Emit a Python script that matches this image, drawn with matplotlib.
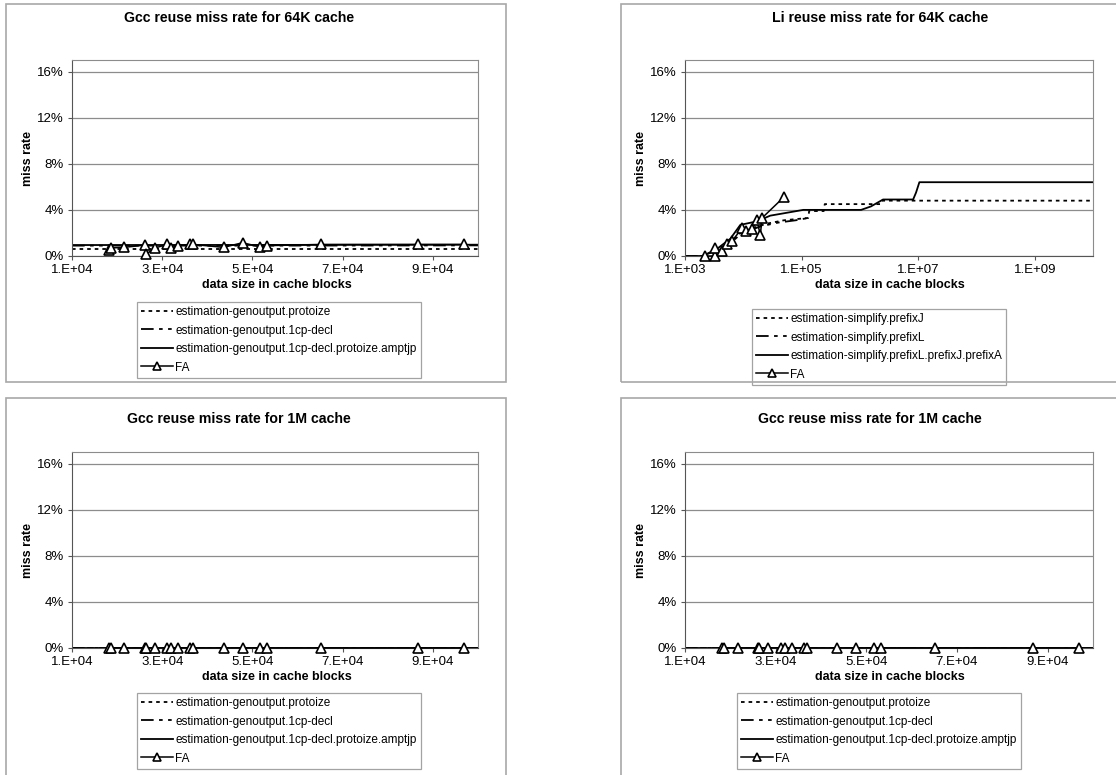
import matplotlib
matplotlib.use("Agg")
import matplotlib.pyplot as plt
from matplotlib.patches import Rectangle
from matplotlib.ticker import FuncFormatter, FixedLocator, NullLocator

plt.rcParams['font.family'] = ['Liberation Sans', 'DejaVu Sans']

W, H = 1116, 775

# ---- data (miss rate in %) ----
gcc_fa_x = [1.82e4, 1.87e4, 2.16e4, 2.62e4, 2.64e4, 2.84e4, 3.11e4, 3.2e4, 3.36e4,
            3.62e4, 3.69e4, 4.36e4, 4.78e4, 5.16e4, 5.33e4, 6.51e4, 8.67e4, 9.69e4]
gcc64_fa_y = [0.52, 0.70, 0.75, 0.95, 0.15, 0.70, 1.00, 0.70, 0.90,
              1.00, 1.00, 0.75, 1.15, 0.80, 0.90, 1.00, 1.00, 1.00]
gcc64_est_x = [1.0e4, 5.0e4, 1.0e5]
gcc64_protoize = [0.65, 0.65, 0.65]
gcc64_decl = [0.90, 0.90, 0.92]
gcc64_amptjp = [0.95, 0.96, 0.98]

gcc1m_fa_y = [0.0] * len(gcc_fa_x)
gcc1m_est_x = [1.0e4, 1.0e5]
gcc1m_protoize = [0.0, 0.0]
gcc1m_decl = [0.0, 0.0]
gcc1m_amptjp = [0.0, 0.0]

li_fa_x = [2.2e3, 3.3e3, 3.3e3, 4.3e3, 5.2e3, 6.4e3, 9.5e3, 1.13e4, 1.41e4,
           1.72e4, 1.96e4, 2.1e4, 4.95e4]
li_fa_y = [0.0, 0.0, 0.67, 0.43, 1.0, 1.3, 2.4, 2.2, 2.3, 3.1, 1.8, 3.3, 5.1]

li_j_x = [1e3, 2.0e3, 3.5e3, 6e3, 9e3, 1.4e4, 2.5e4, 5e4, 1.3e5, 1.35e5, 2.4e5, 2.5e5,
          2.3e6, 2.4e6, 1e10]
li_j_y = [0.0, 0.0, 0.5, 1.2, 2.0, 2.4, 2.8, 3.1, 3.3, 3.9, 3.9, 4.5, 4.5, 4.8, 4.8]

li_l_x = [1e3, 2.0e3, 3.5e3, 6e3, 9e3, 1.4e4, 2.1e4, 4e4, 8e4, 1.3e5]
li_l_y = [0.0, 0.0, 0.4, 1.1, 1.9, 2.3, 2.6, 2.9, 3.1, 3.3]

li_a_x = [1e3, 2.0e3, 3.5e3, 6e3, 8.9e3, 1.7e4, 2.9e4, 4.9e4, 1.07e5, 1.05e6,
          1.55e6, 2.5e6, 8.2e6, 9.2e6, 1.05e7, 1e10]
li_a_y = [0.0, 0.0, 0.6, 1.5, 2.7, 3.0, 3.5, 3.7, 4.0, 4.0,
          4.3, 4.9, 4.9, 5.5, 6.4, 6.4]

gcc_labels = ["estimation-genoutput.protoize", "estimation-genoutput.1cp-decl",
              "estimation-genoutput.1cp-decl.protoize.amptjp", "FA"]
li_labels = ["estimation-simplify.prefixJ", "estimation-simplify.prefixL",
             "estimation-simplify.prefixL.prefixJ.prefixA", "FA"]

y_ticks = [0, 4, 8, 12, 16]
gcc_x_ticks = [1e4, 3e4, 5e4, 7e4, 9e4]
li_x_ticks = [1e3, 1e5, 1e7, 1e9]

DOT = (0, (2, 2.2))
DASHDOT = (0, (7, 3, 2, 3, 2, 3))


def px_rect(x0, y0, x1, y1):
    return [x0 / W, 1 - y1 / H, (x1 - x0) / W, (y1 - y0) / H]


def sci_fmt(v, pos=None):
    s = "%.0E" % v
    mant, exp = s.split("E")
    return "%s.E%s%s" % (mant, exp[0], exp[1:].zfill(2))


fig = plt.figure(figsize=(W / 100, H / 100), dpi=100)

# panel frames
for (x0, y0) in [(6, 4), (621, 4), (6, 398), (621, 398)]:
    fig.patches.append(Rectangle((x0 / W, 1 - (y0 + 378) / H), 500 / W, 378 / H,
                                 transform=fig.transFigure, fill=False,
                                 edgecolor="#a8a8a8", linewidth=1.2))


def panel(rect, title, title_xy, xlabel_xy, ylabel_xy, legend_xy,
          series, labels, fa_x, fa_y, log=False):
    ax = fig.add_axes(px_rect(*rect))
    styles = [DOT, DASHDOT, "-"]
    for (sx, sy), ls, lab in zip(series, styles, labels[:3]):
        ax.plot(sx, [v / 100 for v in sy], color="black", linestyle=ls,
                linewidth=1.3, label=lab)
    ax.plot(fa_x, [v / 100 for v in fa_y], color="black", linewidth=1.1,
            marker="^", markersize=7.5, markerfacecolor="white",
            markeredgecolor="black", markeredgewidth=1.2, label=labels[3],
            clip_on=False, zorder=3)
    ax.set_ylim(0, 0.17)
    ax.yaxis.set_major_locator(FixedLocator([t / 100 for t in y_ticks]))
    ax.yaxis.set_major_formatter(FuncFormatter(lambda v, p: "%d%%" % round(v * 100)))
    if log:
        ax.set_xscale("log")
        ax.set_xlim(1e3, 1e10)
        ax.xaxis.set_major_locator(FixedLocator(li_x_ticks))
        ax.xaxis.set_minor_locator(NullLocator())
    else:
        ax.set_xlim(1e4, 1e5)
        ax.xaxis.set_major_locator(FixedLocator(gcc_x_ticks))
    ax.xaxis.set_major_formatter(FuncFormatter(sci_fmt))
    ax.grid(axis="y", color="#8c8c8c", linewidth=0.9)
    ax.set_axisbelow(True)
    for side in ["top", "right"]:
        ax.spines[side].set_color("#8c8c8c")
    for side in ["left", "bottom"]:
        ax.spines[side].set_color("#555555")
    ax.tick_params(labelsize=9.5, length=3, width=0.8, color="#555555", pad=3)
    fig.text(title_xy[0] / W, 1 - title_xy[1] / H, title, ha="center", va="center",
             fontsize=10.2, fontweight="bold")
    fig.text(xlabel_xy[0] / W, 1 - xlabel_xy[1] / H, "data size in cache blocks",
             ha="center", va="center", fontsize=9, fontweight="bold")
    fig.text(ylabel_xy[0] / W, 1 - ylabel_xy[1] / H, "miss rate", ha="center",
             va="center", rotation=90, fontsize=9, fontweight="bold")
    leg = ax.legend(loc="upper left", bbox_to_anchor=(legend_xy[0] / W, 1 - legend_xy[1] / H),
                    bbox_transform=fig.transFigure, borderaxespad=0, fontsize=8.5,
                    frameon=True, fancybox=False, handlelength=2.7, handletextpad=0.2,
                    labelspacing=0.55, borderpad=0.35, markerscale=0.75)
    leg.get_frame().set_edgecolor("#8c8c8c")
    leg.get_frame().set_linewidth(0.9)
    return ax


panel((72, 60, 478, 256), "Gcc reuse miss rate for 64K cache", (239, 18), (277, 285), (28, 158),
      (137, 302),
      [(gcc64_est_x, gcc64_protoize), (gcc64_est_x, gcc64_decl), (gcc64_est_x, gcc64_amptjp)],
      gcc_labels, gcc_fa_x, gcc64_fa_y)

panel((685, 60, 1093, 256), "Li reuse miss rate for 64K cache", (880, 18), (890, 285), (641, 158),
      (752, 309),
      [(li_j_x, li_j_y), (li_l_x, li_l_y), (li_a_x, li_a_y)],
      li_labels, li_fa_x, li_fa_y, log=True)

panel((72, 452, 478, 648), "Gcc reuse miss rate for 1M cache", (239, 419), (277, 677), (28, 550),
      (137, 693),
      [(gcc1m_est_x, gcc1m_protoize), (gcc1m_est_x, gcc1m_decl), (gcc1m_est_x, gcc1m_amptjp)],
      gcc_labels, gcc_fa_x, gcc1m_fa_y)

panel((685, 452, 1093, 648), "Gcc reuse miss rate for 1M cache", (870, 419), (890, 677), (641, 550),
      (737, 693),
      [(gcc1m_est_x, gcc1m_protoize), (gcc1m_est_x, gcc1m_decl), (gcc1m_est_x, gcc1m_amptjp)],
      gcc_labels, gcc_fa_x, gcc1m_fa_y)

fig.savefig("out.png", dpi=100)
